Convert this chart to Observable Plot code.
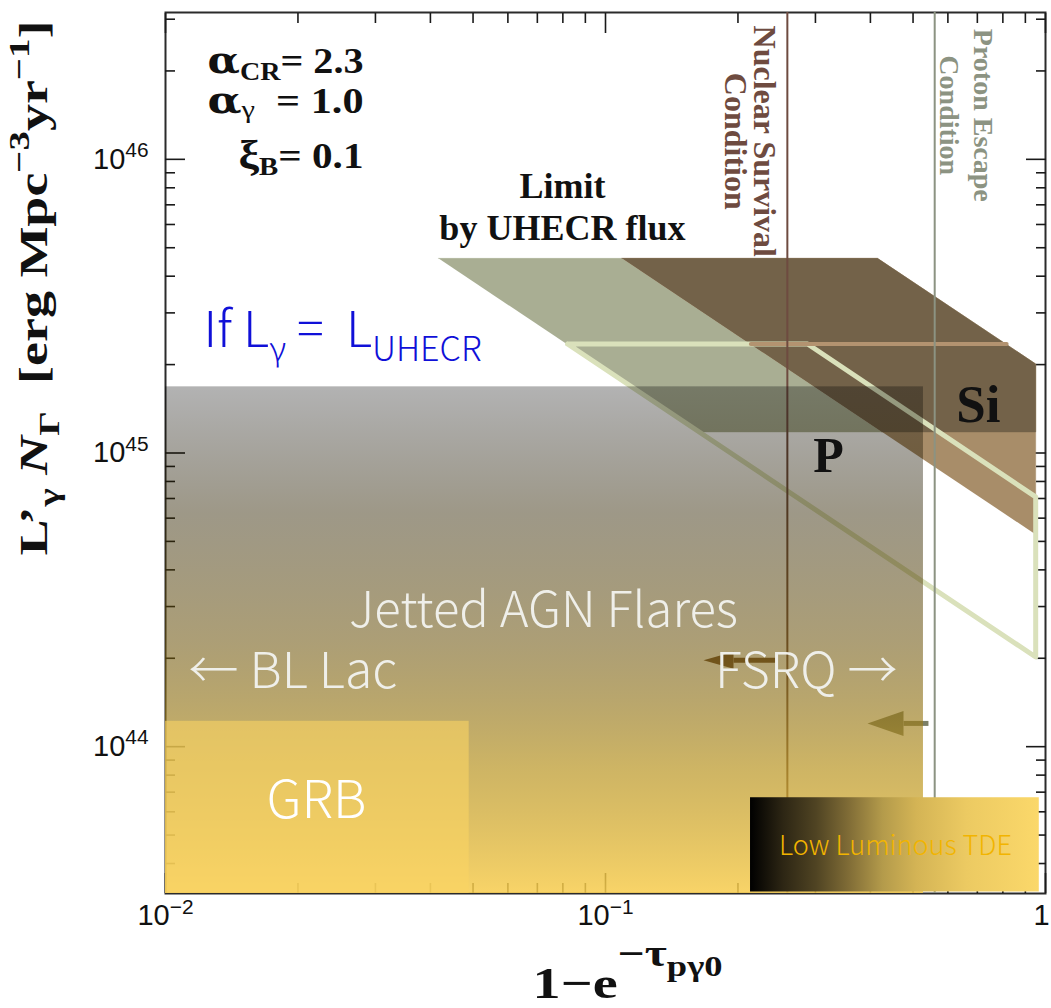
<!DOCTYPE html>
<html>
<head>
<meta charset="utf-8">
<script src="https://cdn.jsdelivr.net/npm/d3@7"></script>
<script src="https://cdn.jsdelivr.net/npm/@observablehq/plot@0.6"></script>
<style>
  body { margin: 0; background: #fff; }
</style>
</head>
<body>
<div id="chart"></div>
<script>
// ---- axes (log–log) ----
const xDomain = [0.01, 1];
const yDomain = [10 ** 43.5, 10 ** 46.5];
const xMajor = [0.01, 0.1, 1];
const xMinor = [0.02, 0.03, 0.04, 0.05, 0.06, 0.07, 0.08, 0.09, 0.2, 0.3, 0.4, 0.5, 0.6, 0.7, 0.8, 0.9];
const yMajor = [1e44, 1e45, 1e46];
const yMinor = [4e43, 5e43, 6e43, 7e43, 8e43, 9e43, 2e44, 3e44, 4e44, 5e44, 6e44, 7e44, 8e44, 9e44,
                2e45, 3e45, 4e45, 5e45, 6e45, 7e45, 8e45, 9e45, 2e46, 3e46];

// ---- allowed regions for proton (P) and silicon (Si) sources: [1-e^-tau, L'N] vertices ----
const pBand = [[0.0417, 4.6e45], [0.109, 4.6e45], [0.425, 1.18e45], [0.1625, 1.18e45]];
const siBand = [[0.109, 4.6e45], [0.415, 4.6e45], [0.95, 2.01e45], [0.95, 5.28e44]];
const siUpper = [[0.109, 4.6e45], [0.415, 4.6e45], [0.95, 2.01e45], [0.95, 1.18e45], [0.425, 1.18e45]];
const pOutline = [[0.082, 2.35e45], [0.288, 2.35e45], [0.95, 7.09e44], [0.95, 2.02e44], [0.082, 2.35e45]];
const siTopEdge = [[0.214, 2.35e45], [0.816, 2.35e45]];

// ---- conditions (vertical limits) and their allowed-side arrows ----
const conditions = [
  {name: "Nuclear Survival\nCondition", x: 0.259},
  {name: "Proton Escape\nCondition", x: 0.56}
];
const conditionArrows = [
  {y: 1.97e44, from: 0.246, head: 0.1954},
  {y: 1.2e44, from: 0.542, head: 0.4756}
];

// ---- source populations ----
const sources = [
  {name: "Jetted AGN Flares", x1: 0.01, x2: 0.528, y1: 10 ** 43.5, y2: 1.68e45},
  {name: "GRB", x1: 0.01, x2: 0.049, y1: 10 ** 43.5, y2: 1.22e44},
  {name: "Low Luminous TDE", x1: 0.2136, x2: 0.968, y1: 3.2e43, y2: 6.7e43}
];

// ---- model parameters ----
const params = [
  {sym: "α", sub: "CR", rest: "= 2.3"},
  {sym: "α", sub: "γ", rest: "  = 1.0"},
  {sym: "ξ", sub: "B", rest: "= 0.1"}
];

// Rich text: a label is drawn as plain text, then split into sized / raised tspans.
const rich = new Map();
const fitLength = new Map();
function richText(...segs) {
  const plain = segs.map((s) => s[0]).join("");
  rich.set(plain, segs);
  return plain;
}
const power = (d) => {
  const e = Math.round(Math.log10(d));
  return e === 0 ? "1" : richText(["10", 1, 0], [String(e).replace("-", "\u2212"), 0.72, 0.4]);
};

const serif = "'Liberation Serif', 'DejaVu Serif', serif";
const jp = "'Noto Sans CJK JP', 'Noto Sans', sans-serif";
const greek = {"font-family": "'DejaVu Serif', serif"};

const paramLabels = params.map((p) =>
  richText(
    [p.sym, p.sym === "α" ? 1.05 : 1.12, 0, p.sym === "α" ? greek : {}],
    [p.sub, p.sub === "γ" ? 0.72 : 0.7, p.sub === "γ" ? -0.15 : -0.2, p.sub === "γ" ? {"font-weight": "normal"} : {}],
    [p.rest, 1, 0]
  )
);
[156, 156, 125].forEach((len, i) => fitLength.set(paramLabels[i], len));
const ifLabel = richText(["If L", 1, 0], ["γ", 0.66, -0.28], [" =  L", 1, 0], ["UHECR", 0.68, -0.28]);
const yLabel = richText(["L\u2019", 1, 0], ["γ", 0.72, -0.3], [" ", 1, 0],
  ["N", 1, 0, {"font-style": "italic"}], ["Γ", 0.72, -0.3], ["  [erg Mpc", 1, 0],
  ["\u22123", 0.72, 0.42], ["yr", 1, 0], ["\u22121", 0.72, 0.42], ["]", 1, 0]);
fitLength.set(yLabel, 535);
const xLabel = richText(["1\u2212e", 1, 0], ["\u2212τ", 0.85, 0.72], ["pγ0", 0.65, 0.5]);
fitLength.set(xLabel, 190);

const pt = {x: (d) => d[0], y: (d) => d[1]};

const chart = Plot.plot({
  width: 1051,
  height: 1008,
  marginTop: 12,
  marginRight: 6,
  marginBottom: 115,
  marginLeft: 165,
  style: {background: "#fff", fontFamily: "'Liberation Sans', Arial, sans-serif"},
  x: {type: "log", domain: xDomain},
  y: {type: "log", domain: yDomain},
  marks: [
    // frame with inward ticks on all four sides
    Plot.frame({stroke: "#2b2b2b", strokeWidth: 2}),
    ...["top", "bottom"].flatMap((anchor) => [
      Plot.axisX(xMajor, {anchor, tickSize: -20, tickFormat: () => "", label: null, stroke: "#1a1a1a", strokeWidth: 1.6}),
      Plot.axisX(xMinor, {anchor, tickSize: -10, tickFormat: () => "", label: null, stroke: "#1a1a1a", strokeWidth: 1.6})
    ]),
    ...["left", "right"].flatMap((anchor) => [
      Plot.axisY(yMajor, {anchor, tickSize: -20, tickFormat: () => "", label: null, stroke: "#1a1a1a", strokeWidth: 1.6}),
      Plot.axisY(yMinor, {anchor, tickSize: -10, tickFormat: () => "", label: null, stroke: "#1a1a1a", strokeWidth: 1.6})
    ]),

    // allowed regions
    Plot.line(pBand, {...pt, fill: "#a9ae93", stroke: "#a9ae93", strokeWidth: 0.5}),
    Plot.line(siBand, {...pt, fill: "#a88d69", stroke: "#a88d69", strokeWidth: 0.5}),
    Plot.line(siUpper, {...pt, fill: "#736249", stroke: "#736249", strokeWidth: 0.5}),
    Plot.line(pOutline, {...pt, stroke: "#dae1bb", strokeWidth: 5, strokeLinejoin: "round"}),
    Plot.line(siTopEdge, {...pt, stroke: "#b39370", strokeWidth: 4}),

    // condition limits
    Plot.ruleX([conditions[0]], {x: "x", stroke: "#6e4b40", strokeWidth: 2}),
    Plot.ruleX([conditions[1]], {x: "x", stroke: "#8c9382", strokeWidth: 2}),
    Plot.link([conditionArrows[0]], {x1: "from", x2: "head", y1: "y", y2: "y", stroke: "#6b4a30", strokeWidth: 5}),
    Plot.vector([conditionArrows[0]], {x: "head", y: "y", rotate: -90, length: 30, shape: "spike", r: 8.5, anchor: "start", fill: "#6b4a30", stroke: "none"}),
    Plot.link([conditionArrows[1]], {x1: "from", x2: "head", y1: "y", y2: "y", stroke: "#7c7f66", strokeWidth: 5}),
    Plot.vector([conditionArrows[1]], {x: "head", y: "y", rotate: -90, length: 36, shape: "spike", r: 12.5, anchor: "start", fill: "#7c7f66", stroke: "none"}),

    // source populations
    Plot.rect([sources[0]], {x1: "x1", x2: "x2", y1: "y1", y2: "y2", fill: "url(#agn-grad)"}),
    Plot.rect([sources[1]], {x1: "x1", x2: "x2", y1: "y1", y2: "y2", fill: "#fad462", fillOpacity: 0.6}),
    Plot.rect([sources[2]], {x1: "x1", x2: "x2", y1: "y1", y2: "y2", fill: "url(#tde-grad)"}),

    // tick labels
    Plot.axisY(yMajor, {anchor: "left", tickSize: 0, tickPadding: 17, tickFormat: power, label: null, fontSize: 29, fill: "#111"}),
    Plot.axisX(xMajor.slice(0, 2), {anchor: "bottom", tickSize: 0, tickPadding: 11, tickFormat: power, label: null, fontSize: 29, fill: "#111"}),
    Plot.axisX(xMajor.slice(2), {anchor: "bottom", tickSize: 0, tickPadding: 11, tickFormat: power, label: null, fontSize: 29, fill: "#111", dx: -4}),

    // axis titles
    Plot.text([yLabel], {frameAnchor: "left", rotate: -90, dx: -119, dy: -165, textAnchor: "middle", lineAnchor: "bottom",
      fontSize: 41, fontWeight: "bold", fontFamily: serif, fill: "#111"}),
    Plot.text([xLabel], {frameAnchor: "bottom", dx: 22, dy: 104, textAnchor: "middle", lineAnchor: "bottom",
      fontSize: 44, fontWeight: "bold", fontFamily: serif, fill: "#111"}),

    // model parameters
    Plot.text(paramLabels, {x: 0.02818, y: [1.966e46, 1.436e46, 9.31e45], text: (d) => d, textAnchor: "end",
      lineAnchor: "bottom", fontSize: 35, fontWeight: "bold", fontFamily: serif, fill: "#111"}),

    // physics annotations
    Plot.text(["Limit", "by UHECR flux"], {x: 0.0798, y: [7.36e45, 5.33e45], text: (d) => d, lineAnchor: "bottom",
      fontSize: 36, fontWeight: "bold", fontFamily: serif, fill: "#111"}),
    Plot.text([conditions[0]], {x: 0.2113, y: 1.152e46, text: "name", rotate: 90, lineHeight: 0.88,
      fontSize: 32, fontWeight: "bold", fontFamily: serif, fill: "#6e4b40"}),
    Plot.text([conditions[1]], {x: 0.665, y: 1.413e46, text: "name", rotate: 90, lineHeight: 1.2,
      fontSize: 28, fontWeight: "bold", fontFamily: serif, fill: "#8c9382"}),
    Plot.text(["Si"], {x: 0.704, y: 1.277e45, text: (d) => d, lineAnchor: "bottom",
      fontSize: 53, fontWeight: "bold", fontFamily: serif, fill: "#111"}),
    Plot.text(["P"], {x: 0.3214, y: 8.61e44, text: (d) => d, lineAnchor: "bottom",
      fontSize: 50, fontWeight: "bold", fontFamily: serif, fill: "#111"}),

    // population annotations
    Plot.text([ifLabel], {x: 0.0122, y: 2.30e45, text: (d) => d, textAnchor: "start", lineAnchor: "bottom",
      fontSize: 50, fontWeight: 300, fontFamily: jp, fill: "#1010d8"}),
    Plot.text([sources[0]], {x: 0.0723, y: 2.55e44, text: "name", lineAnchor: "bottom",
      fontSize: 49, fontWeight: 300, fontFamily: jp, fill: "#efefea"}),
    Plot.text(["\u2190 BL Lac"], {x: 0.01128, y: 1.59e44, text: (d) => d, textAnchor: "start", lineAnchor: "bottom",
      fontSize: 50, fontWeight: 300, fontFamily: jp, fill: "#efefea"}),
    Plot.text(["FSRQ \u2192"], {x: 0.461, y: 1.59e44, text: (d) => d, textAnchor: "end", lineAnchor: "bottom",
      fontSize: 50, fontWeight: 300, fontFamily: jp, fill: "#efefea"}),
    Plot.text([sources[1]], {x: 0.02203, y: 5.72e43, text: "name", lineAnchor: "bottom",
      fontSize: 52, fontWeight: 300, fontFamily: jp, fill: "#ffffff"}),
    Plot.text([sources[2]], {x: 0.456, y: 4.28e43, text: "name", lineAnchor: "bottom",
      fontSize: 27, fontWeight: 300, fontFamily: jp, fill: "#f2b400"})
  ]
});

document.getElementById("chart").append(chart);

// gradients for the AGN flare band (vertical) and the TDE band (horizontal)
const agnStops = [[0, "#000000", 0.30], [0.25, "#302400", 0.47], [0.5, "#684f06", 0.55], [0.75, "#b89422", 0.70], [1, "#f7cc4d", 0.85]];
const tdeStops = [[0, "#000000", 1], [0.115, "#2d2614", 1], [0.23, "#504423", 1], [0.346, "#826e37", 1],
                  [0.46, "#b49b4b", 1], [0.577, "#d4b455", 1], [0.75, "#ecca62", 1], [1, "#fbd86a", 1]];
const defs = d3.select(chart).insert("defs", ":first-child");
function gradient(id, stops, vertical) {
  const g = defs.append("linearGradient").attr("id", id)
    .attr("x1", 0).attr("y1", 0).attr("x2", vertical ? 0 : 1).attr("y2", vertical ? 1 : 0);
  for (const [o, c, a] of stops) g.append("stop").attr("offset", o).attr("stop-color", c).attr("stop-opacity", a);
}
gradient("agn-grad", agnStops, true);
gradient("tde-grad", tdeStops, false);

// split rich labels into subscript / superscript tspans
const NS = "http://www.w3.org/2000/svg";
chart.querySelectorAll("text").forEach((t) => {
  const key = t.textContent;
  const segs = rich.get(key);
  if (!segs) return;
  const size = parseFloat(getComputedStyle(t).fontSize);
  t.textContent = "";
  t.style.whiteSpace = "pre";
  let rise = 0;
  for (const [s, k, r, attrs = {}] of segs) {
    const span = document.createElementNS(NS, "tspan");
    span.setAttribute("font-size", `${k * size}px`);
    if (r !== rise) span.setAttribute("dy", `${(rise - r) * size}`);
    for (const [a, v] of Object.entries(attrs)) span.setAttribute(a, v);
    span.textContent = s;
    t.append(span);
    rise = r;
  }
  if (fitLength.has(key)) {
    t.setAttribute("textLength", fitLength.get(key));
    t.setAttribute("lengthAdjust", "spacingAndGlyphs");
  }
});
</script>
</body>
</html>
